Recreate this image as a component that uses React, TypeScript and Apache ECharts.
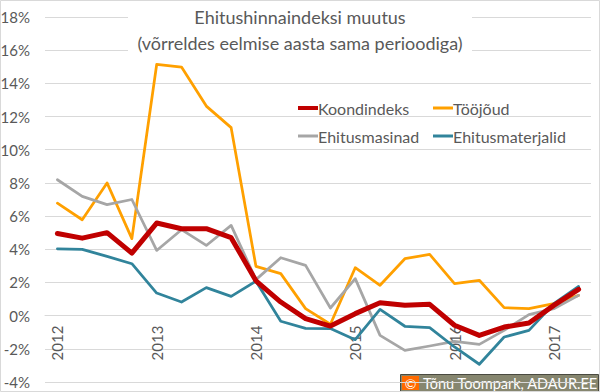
import React, { useEffect, useRef } from "react";
import * as echarts from "echarts";

const years = ["2012", "2013", "2014", "2015", "2016", "2017"];
const quarters = ["Q1", "Q2", "Q3", "Q4"];
const categories: string[] = [];
years.forEach((y) => quarters.forEach((q) => categories.push(y + " " + q)));
categories.splice(22);

const koondindeks = [4.95, 4.67, 5.0, 3.77, 5.58, 5.24, 5.24, 4.7, 2.1, 0.82, -0.18, -0.63, 0.12, 0.78, 0.62, 0.68, -0.58, -1.19, -0.69, -0.44, 0.62, 1.58];
const toojoud = [6.78, 5.78, 8.0, 4.64, 15.14, 14.98, 12.63, 11.33, 2.97, 2.53, 0.42, -0.52, 2.89, 1.83, 3.43, 3.69, 1.93, 2.13, 0.48, 0.42, 0.72, 1.22];
const ehitusmasinad = [8.19, 7.19, 6.69, 7.0, 3.93, 5.18, 4.23, 5.44, 2.17, 3.49, 3.03, 0.46, 2.23, -1.19, -2.09, -1.83, -1.55, -1.73, -0.89, 0.06, 0.42, 1.22];
const ehitusmaterjalid = [4.03, 3.99, 3.57, 3.13, 1.36, 0.82, 1.69, 1.16, 2.07, -0.34, -0.77, -0.78, -1.45, 0.38, -0.64, -0.72, -1.89, -2.93, -1.29, -0.89, 0.72, 1.76];

const yMin = -4;
const yMax = 18;
const titleLines = ["Ehitushinnaindeksi muutus", "(võrreldes eelmise aasta sama perioodiga)"];
const credit = "Tõnu Toompark, ADAUR.EE";

const FONT = "Lato, 'Noto Sans', sans-serif";
const TXT = "#595959";

const W = 600;
const H = 392;
const GRID = { left: 45, right: 9, top: 17, bottom: 10 };

export default function App() {
  const ref = useRef<HTMLDivElement>(null);
  useEffect(() => {
    if (!ref.current) return;
    const chart = echarts.init(ref.current, null, { renderer: "svg" });
    const plotH = H - GRID.top - GRID.bottom;
    const zeroOffset = -((0 - yMin) / (yMax - yMin)) * plotH;
    const mk = (name: string, data: number[], color: string, width: number, z: number) => ({
      name,
      type: "line",
      data,
      symbol: "none",
      z,
      lineStyle: { color, width, cap: "round", join: "round" },
      itemStyle: { color },
    });
    const legendItem = (name: string, left: number, top: number, h: number) => ({
      data: [name],
      left,
      top,
      icon: "rect",
      itemWidth: 20,
      itemHeight: h,
      itemGap: 0,
      textStyle: { color: TXT, fontSize: 16, fontFamily: FONT, padding: [0, 0, 0, -5] },
    });
    chart.setOption({
      animation: false,
      textStyle: { fontFamily: FONT },
      grid: { ...GRID, containLabel: false, outerBoundsMode: "none" },
      xAxis: {
        type: "category",
        data: categories,
        boundaryGap: true,
        offset: zeroOffset,
        axisLine: { onZero: false, lineStyle: { color: "#d9d9d9" } },
        axisTick: { show: false },
        axisLabel: {
          interval: 3,
          rotate: 90,
          margin: 10,
          color: TXT,
          fontSize: 15,
          fontFamily: FONT,
          formatter: (v: string) => v.slice(0, 4),
        },
        splitLine: { show: false },
      },
      yAxis: {
        type: "value",
        min: yMin,
        max: yMax,
        interval: 2,
        axisLine: { show: false },
        axisTick: { show: false },
        axisLabel: {
          color: TXT,
          fontSize: 15,
          fontFamily: FONT,
          margin: 15,
          formatter: (v: number) => v + "%",
        },
        splitLine: { lineStyle: { color: "#d9d9d9", width: 1 } },
      },
      legend: [
        legendItem("Koondindeks", 293, 95, 4),
        legendItem("Tööjõud", 428, 95, 3),
        legendItem("Ehitusmasinad", 293, 123, 3),
        legendItem("Ehitusmaterjalid", 428, 123, 3),
      ],
      graphic: [
        {
          type: "rect",
          shape: { x: 128, y: 3, width: 344, height: 54 },
          style: { fill: "#ffffff" },
          z: 50,
        },
        {
          type: "text",
          x: 300,
          y: 17,
          z: 51,
          style: {
            text: titleLines[0],
            fill: TXT,
            font: "18px " + FONT,
            align: "center",
            verticalAlign: "middle",
          },
        },
        {
          type: "text",
          x: 300,
          y: 43,
          z: 51,
          style: {
            text: titleLines[1],
            fill: TXT,
            font: "18px " + FONT,
            align: "center",
            verticalAlign: "middle",
          },
        },
        {
          type: "rect",
          shape: { x: 0.5, y: 0.5, width: W - 1, height: H - 1 },
          style: { fill: "none", stroke: "#d9d9d9", lineWidth: 1 },
          z: 40,
        },
        {
          type: "group",
          x: 400,
          y: 374,
          z: 60,
          children: [
            {
              type: "rect",
              shape: { x: 0.5, y: 0.5, width: 198, height: 17 },
              style: { fill: "#86866f", stroke: "#4a4a40", lineWidth: 1 },
            },
            {
              type: "rect",
              shape: { x: 2, y: 2, width: 17, height: 14 },
              style: { fill: "#ff6a00" },
            },
            {
              type: "text",
              x: 10.5,
              y: 9.5,
              style: { text: "©", fill: "#ffffff", font: "14px " + FONT, align: "center", verticalAlign: "middle" },
            },
            {
              type: "text",
              x: 23,
              y: 9.5,
              style: { text: credit, fill: "#ffffff", font: "14.5px " + FONT, align: "left", verticalAlign: "middle" },
            },
          ],
        },
      ],
      series: [
        mk("Tööjõud", toojoud, "#ffa000", 2.75, 2),
        mk("Ehitusmasinad", ehitusmasinad, "#a6a6a6", 2.75, 3),
        mk("Ehitusmaterjalid", ehitusmaterjalid, "#31849b", 2.75, 4),
        mk("Koondindeks", koondindeks, "#c00000", 5, 5),
      ],
    });
    return () => chart.dispose();
  }, []);
  return (
    <div style={{ position: "fixed", left: 0, top: 0, width: W, height: H, background: "#fff" }}>
      <div ref={ref} style={{ width: W, height: H }} />
    </div>
  );
}
